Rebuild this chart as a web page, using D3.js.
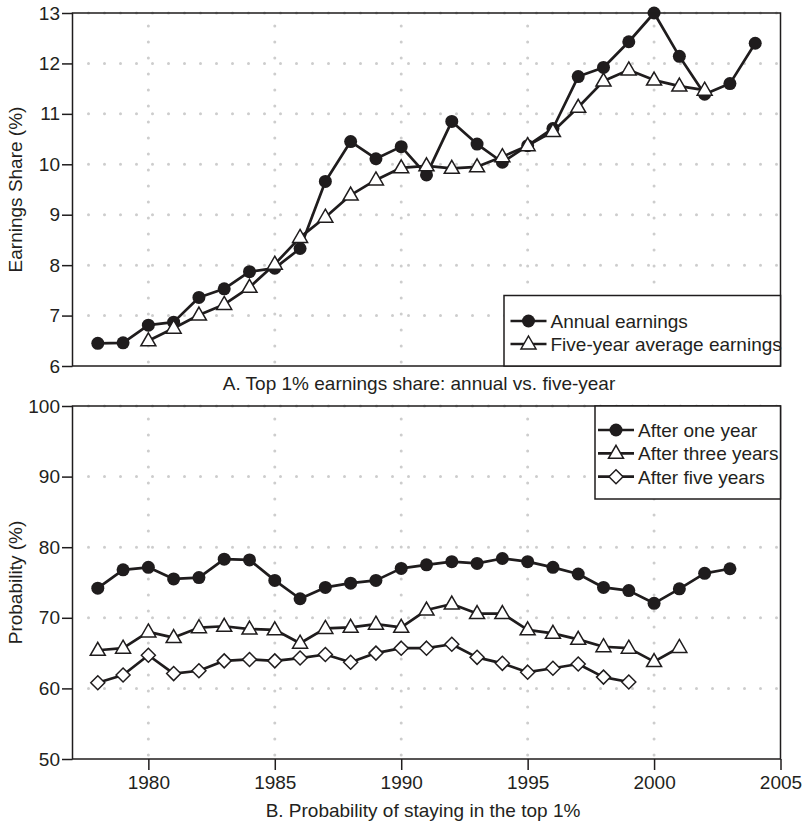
<!DOCTYPE html>
<html>
<head>
<meta charset="utf-8">
<title>Top 1% earnings share and persistence</title>
<script src="https://d3js.org/d3.v7.min.js"></script>
<style>
    body { margin: 0; background: #fff; }
    svg text { font-family: "Liberation Sans", Arial, sans-serif; fill: #231f20; }
</style>
</head>
<body>
<div id="chart"></div>
<script>
// panel A: top 1% earnings share (%)
var annualYears = [1978, 1979, 1980, 1981, 1982, 1983, 1984, 1985, 1986, 1987, 1988, 1989, 1990,
    1991, 1992, 1993, 1994, 1995, 1996, 1997, 1998, 1999, 2000, 2001, 2002, 2003, 2004];
var annualShare = [6.45, 6.46, 6.81, 6.87, 7.36, 7.53, 7.87, 7.94, 8.33, 9.66, 10.45, 10.11, 10.35,
    9.79, 10.85, 10.40, 10.04, 10.37, 10.71, 11.74, 11.92, 12.43, 13.0, 12.14, 11.39, 11.60, 12.40];

var fiveYearYears = [1980, 1981, 1982, 1983, 1984, 1985, 1986, 1987, 1988, 1989, 1990,
    1991, 1992, 1993, 1994, 1995, 1996, 1997, 1998, 1999, 2000, 2001, 2002];
var fiveYearShare = [6.50, 6.75, 7.01, 7.22, 7.56, 8.02, 8.55, 8.95, 9.39, 9.69, 9.93,
    9.97, 9.92, 9.95, 10.15, 10.37, 10.65, 11.13, 11.65, 11.87, 11.67, 11.55, 11.47];

// panel B: probability of staying in the top 1% (%)
var oneYearYears = [1978, 1979, 1980, 1981, 1982, 1983, 1984, 1985, 1986, 1987, 1988, 1989, 1990,
    1991, 1992, 1993, 1994, 1995, 1996, 1997, 1998, 1999, 2000, 2001, 2002, 2003];
var afterOneYear = [74.2, 76.8, 77.15, 75.5, 75.7, 78.3, 78.2, 75.3, 72.7, 74.3, 74.9, 75.3, 77.0,
    77.5, 77.95, 77.7, 78.4, 77.95, 77.15, 76.2, 74.3, 73.85, 72.05, 74.1, 76.3, 76.95];

var threeYearYears = [1978, 1979, 1980, 1981, 1982, 1983, 1984, 1985, 1986, 1987, 1988, 1989, 1990,
    1991, 1992, 1993, 1994, 1995, 1996, 1997, 1998, 1999, 2000, 2001];
var afterThreeYears = [65.4, 65.7, 68.0, 67.2, 68.6, 68.8, 68.4, 68.3, 66.4, 68.5, 68.65, 69.1, 68.65,
    71.1, 71.95, 70.6, 70.6, 68.3, 67.8, 66.95, 65.9, 65.7, 63.8, 65.8];

var fiveYearsYears = [1978, 1979, 1980, 1981, 1982, 1983, 1984, 1985, 1986, 1987, 1988, 1989, 1990,
    1991, 1992, 1993, 1994, 1995, 1996, 1997, 1998, 1999];
var afterFiveYears = [60.8, 61.9, 64.7, 62.1, 62.5, 63.9, 64.1, 63.9, 64.3, 64.8, 63.7, 65.0, 65.7,
    65.7, 66.25, 64.4, 63.55, 62.3, 62.85, 63.45, 61.6, 60.9];

var xTicks = [1980, 1985, 1990, 1995, 2000, 2005];
var shareTicks = [6, 7, 8, 9, 10, 11, 12, 13];
var probTicks = [50, 60, 70, 80, 90, 100];

var ink = '#1f1c1d';
var gridColor = '#cdcdcd';
var fontSize = 19;

var svg = d3.select('#chart').append('svg')
    .attr('width', 803)
    .attr('height', 824);

var x = d3.scaleLinear().domain([1977, 2005]).range([72.5, 780.5]);

var yShare = d3.scaleLinear().domain([6, 13]).range([366, 13]);
var yProb = d3.scaleLinear().domain([50, 100]).range([759, 406]);

// marker shapes
function markerPath(kind) {
    if (kind === 'triangle') return 'M0,-8L7.5,5L-7.5,5Z';
    if (kind === 'diamond') return 'M0,-7L7,0L0,7L-7,0Z';
    return null;
}

function drawMarker(g, kind, cx, cy) {
    if (kind === 'circle') {
        g.append('circle')
            .attr('cx', cx).attr('cy', cy).attr('r', 6.5)
            .attr('fill', ink);
    } else {
        g.append('path')
            .attr('d', markerPath(kind))
            .attr('transform', 'translate(' + cx + ',' + cy + ')')
            .attr('fill', '#fff')
            .attr('stroke', ink)
            .attr('stroke-width', 1.5);
    }
}

function drawPanel(y, ticks, series, showX) {
    var g = svg.append('g');
    var x0 = x.range()[0], x1 = x.range()[1];
    var y0 = y.range()[1], y1 = y.range()[0];

    // dotted grid
    g.selectAll('.hgrid')
        .data(ticks.slice(1))
        .enter().append('line')
        .attr('x1', x0 + 16).attr('x2', x1)
        .attr('y1', function(d) { return y(d); })
        .attr('y2', function(d) { return y(d); })
        .attr('stroke', gridColor)
        .attr('stroke-width', 3)
        .attr('stroke-linecap', 'round')
        .attr('stroke-dasharray', '0,16');

    g.selectAll('.vgrid')
        .data(xTicks.slice(0, -1))
        .enter().append('line')
        .attr('x1', function(d) { return x(d); })
        .attr('x2', function(d) { return x(d); })
        .attr('y1', y0 + 13).attr('y2', y1)
        .attr('stroke', gridColor)
        .attr('stroke-width', 3)
        .attr('stroke-linecap', 'round')
        .attr('stroke-dasharray', '0,16');

    // series
    series.forEach(function(s) {
        var pts = s.years.map(function(yr, i) { return [x(yr), y(s.values[i])]; });
        g.append('path')
            .attr('d', d3.line()(pts))
            .attr('fill', 'none')
            .attr('stroke', ink)
            .attr('stroke-width', 2.7)
            .attr('stroke-linejoin', 'round');
        pts.forEach(function(p) { drawMarker(g, s.marker, p[0], p[1]); });
    });

    // frame
    g.append('rect')
        .attr('x', x0).attr('y', y0)
        .attr('width', x1 - x0).attr('height', y1 - y0)
        .attr('fill', 'none')
        .attr('stroke', ink)
        .attr('stroke-width', 1.5);

    var yAxis = d3.axisLeft(y).tickValues(ticks).tickFormat(d3.format('d'))
        .tickSize(10.5).tickPadding(2);
    var ya = g.append('g')
        .attr('transform', 'translate(' + x0 + ',0)')
        .call(yAxis);
    ya.select('.domain').remove();
    ya.selectAll('line').attr('stroke', ink).attr('stroke-width', 1.5);
    ya.selectAll('text').attr('font-size', fontSize).attr('fill', '#231f20')
        .attr('font-family', '"Liberation Sans", Arial, sans-serif');

    if (showX) {
        var xAxis = d3.axisBottom(x).tickValues(xTicks).tickFormat(d3.format('d'))
            .tickSize(11).tickPadding(6);
        var xa = g.append('g')
            .attr('transform', 'translate(0,' + y1 + ')')
            .call(xAxis);
        xa.select('.domain').remove();
        xa.selectAll('line').attr('stroke', ink).attr('stroke-width', 1.5);
        xa.selectAll('text').attr('font-size', fontSize).attr('fill', '#231f20')
            .attr('font-family', '"Liberation Sans", Arial, sans-serif');
    }
    return g;
}

function drawLegend(box, entries, lineX0, lineX1, textX, rowY) {
    var g = svg.append('g');
    g.append('rect')
        .attr('x', box[0]).attr('y', box[1])
        .attr('width', box[2]).attr('height', box[3])
        .attr('fill', '#fff')
        .attr('stroke', ink)
        .attr('stroke-width', 1.5);
    entries.forEach(function(e, i) {
        var yy = rowY[i];
        g.append('line')
            .attr('x1', lineX0).attr('x2', lineX1)
            .attr('y1', yy).attr('y2', yy)
            .attr('stroke', ink).attr('stroke-width', 2.7);
        drawMarker(g, e.marker, (lineX0 + lineX1) / 2, yy);
        g.append('text')
            .attr('x', textX).attr('y', yy)
            .attr('dy', '0.36em')
            .attr('font-size', fontSize)
            .text(e.label);
    });
}

var seriesA = [
    { label: 'Annual earnings', years: annualYears, values: annualShare, marker: 'circle' },
    { label: 'Five-year average earnings', years: fiveYearYears, values: fiveYearShare, marker: 'triangle' }
];
var seriesB = [
    { label: 'After one year', years: oneYearYears, values: afterOneYear, marker: 'circle' },
    { label: 'After three years', years: threeYearYears, values: afterThreeYears, marker: 'triangle' },
    { label: 'After five years', years: fiveYearsYears, values: afterFiveYears, marker: 'diamond' }
];

drawPanel(yShare, shareTicks, seriesA, false);
drawPanel(yProb, probTicks, seriesB, true);

drawLegend([504, 295.5, 276.5, 70.5], seriesA, 510.5, 546.5, 550.5, [321, 344]);
drawLegend([595, 406, 185.5, 93], seriesB, 598, 634, 638, [430, 453.3, 476.7]);

// axis titles and panel captions
svg.append('text')
    .attr('transform', 'translate(15.5,189.5) rotate(-90)')
    .attr('text-anchor', 'middle')
    .attr('dy', '0.36em')
    .attr('font-size', fontSize)
    .text('Earnings Share (%)');

svg.append('text')
    .attr('transform', 'translate(15.5,582.5) rotate(-90)')
    .attr('text-anchor', 'middle')
    .attr('dy', '0.36em')
    .attr('font-size', fontSize)
    .text('Probability (%)');

svg.append('text')
    .attr('x', 419).attr('y', 390)
    .attr('text-anchor', 'middle')
    .attr('font-size', fontSize)
    .text('A. Top 1% earnings share: annual vs. five-year');

svg.append('text')
    .attr('x', 423).attr('y', 817)
    .attr('text-anchor', 'middle')
    .attr('font-size', fontSize)
    .text('B. Probability of staying in the top 1%');
</script>
</body>
</html>
